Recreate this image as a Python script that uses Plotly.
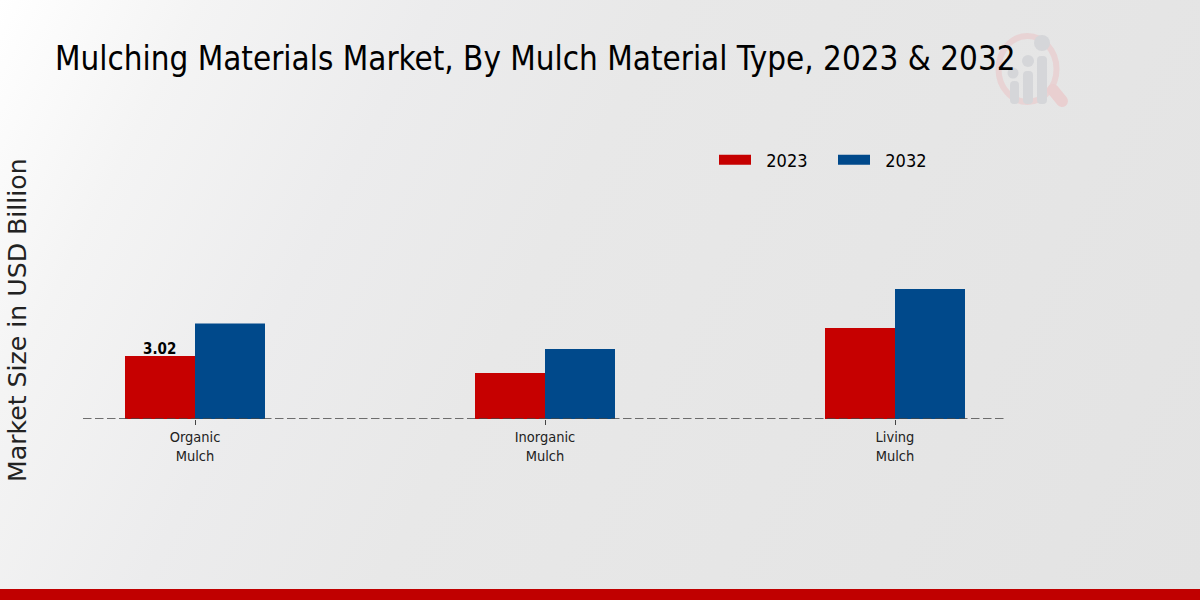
# Mulching Materials Market - bar chart 2023 vs 2032
import base64
import plotly.graph_objects as go

# === DATA ===
CATEGORIES = ["Organic<br>Mulch", "Inorganic<br>Mulch", "Living<br>Mulch"]
VALUES_2023 = [3.02, 2.20, 4.36]
VALUES_2032 = [4.58, 3.36, 6.23]
LABELS_2023 = ["3.02", "", ""]

TITLE = "Mulching Materials Market, By Mulch Material Type, 2023 & 2032"
Y_TITLE = "Market Size in USD Billion"

RED = "#c60000"
BLUE = "#00498b"
FONT_COND = "DejaVu Sans Condensed, DejaVu Sans"
FONT = "DejaVu Sans"

# plot box in pixels, the legend has to sit inside it or it pushes the margins
PLOT_TOP = 100
PLOT_H = 319
PLOT_W = 924

# page background: soft gradient, watermark logo and the red strip at the bottom
BACKGROUND = """<svg xmlns="http://www.w3.org/2000/svg" width="1200" height="600" viewBox="0 0 1200 600">
<defs><linearGradient id="g" gradientUnits="userSpaceOnUse" x1="0" y1="0" x2="1200" y2="600">
<stop offset="0" stop-color="#ffffff"/><stop offset="0.134" stop-color="#f4f4f4"/><stop offset="0.29" stop-color="#ececed"/><stop offset="0.447" stop-color="#e8e8e8"/><stop offset="1" stop-color="#e3e3e3"/>
</linearGradient></defs>
<rect width="1200" height="600" fill="url(#g)"/>
<ellipse cx="1027.5" cy="69" rx="29" ry="33" fill="none" stroke="#e8d3d4" stroke-width="6"/>
<line x1="1053" y1="90" x2="1062" y2="101" stroke="#e9cfd0" stroke-width="12" stroke-linecap="round"/>
<g fill="#d5d6d9">
<circle cx="1013" cy="73" r="5.5"/><circle cx="1028" cy="61" r="6"/><circle cx="1042" cy="43" r="8"/>
<rect x="1010" y="81" width="9" height="23" rx="4"/><rect x="1023" y="71" width="10" height="33" rx="4"/><rect x="1037" y="56" width="10" height="48" rx="4"/>
</g>
<rect y="589" width="1200" height="11" fill="#c00000"/>
</svg>"""
bg_uri = "data:image/svg+xml;base64," + base64.b64encode(BACKGROUND.encode()).decode()

fig = go.Figure()

fig.add_trace(go.Bar(
    x=CATEGORIES,
    y=VALUES_2023,
    name="2023",
    marker=dict(color=RED, line=dict(width=0)),
    showlegend=False,
))
fig.add_trace(go.Bar(
    x=CATEGORIES,
    y=VALUES_2032,
    name="2032",
    marker=dict(color=BLUE, line=dict(width=0)),
    showlegend=False,
))

# thick line keys give the wide legend swatches
for name, color in [("\u00a0\u00a02023", RED), ("\u00a0\u00a02032", BLUE)]:
    fig.add_trace(go.Scatter(
        x=[None], y=[None], mode="lines", name=name,
        line=dict(color=color, width=14),
    ))

fig.update_layout(
    width=1200,
    height=600,
    margin=dict(l=83, r=193, t=PLOT_TOP, b=600 - PLOT_TOP - PLOT_H),
    paper_bgcolor="#e7e7e8",
    plot_bgcolor="rgba(0,0,0,0)",
    barmode="group",
    bargap=0.6,
    bargroupgap=0,
    title=dict(
        text=TITLE,
        font=dict(family=FONT_COND, size=32.9, color="black"),
        xref="container", x=55 / 1200, xanchor="left",
        yref="container", y=1 - 58 / 600, yanchor="middle",
    ),
    legend=dict(
        orientation="h",
        x=(714 - 83) / PLOT_W, xanchor="left",
        y=(419 - 160) / PLOT_H, yanchor="middle",
        itemwidth=32,
        entrywidth=72,
        entrywidthmode="pixels",
        font=dict(family=FONT_COND, size=18, color="black"),
        bgcolor="rgba(0,0,0,0)",
    ),
    images=[dict(
        source=bg_uri, xref="paper", yref="paper",
        x=-83 / PLOT_W, y=1 + PLOT_TOP / PLOT_H,
        sizex=1200 / PLOT_W, sizey=600 / PLOT_H,
        xanchor="left", yanchor="top", sizing="stretch", layer="below",
    )],
    annotations=[dict(
        text=Y_TITLE, textangle=-90, showarrow=False,
        xref="paper", yref="paper",
        x=-66 / PLOT_W, y=(419 - 320) / PLOT_H, xanchor="center", yanchor="middle",
        font=dict(family=FONT, size=25.2, color="#222222"),
    )],
    shapes=[dict(
        type="line", xref="paper", yref="y", x0=0, x1=1, y0=0, y1=0,
        line=dict(color="#444444", width=1.6, dash="8.5px 3.5px"), layer="above",
    )],
)

# value labels sit closer to the bar than textposition="outside" allows
for cat, val, label in zip(CATEGORIES, VALUES_2023, LABELS_2023):
    if label:
        fig.add_annotation(
            x=cat, y=val, text=label, showarrow=False,
            xshift=-36, yshift=-4, yanchor="bottom",
            font=dict(family=FONT_COND, size=15, color="black", weight="bold"),
        )

fig.update_xaxes(
    range=[-0.32, 2.32],
    showgrid=False,
    showline=False,
    zeroline=False,
    ticks="outside",
    ticklen=5,
    tickcolor="#444444",
    tickfont=dict(family=FONT_COND, size=14.5, color="#222222"),
)
fig.update_yaxes(
    range=[0, PLOT_H / 20.86],
    visible=False,
)

fig.write_html(
    "out.html",
    config={"displayModeBar": False},
    post_script="document.body.style.margin = '0';",
)
